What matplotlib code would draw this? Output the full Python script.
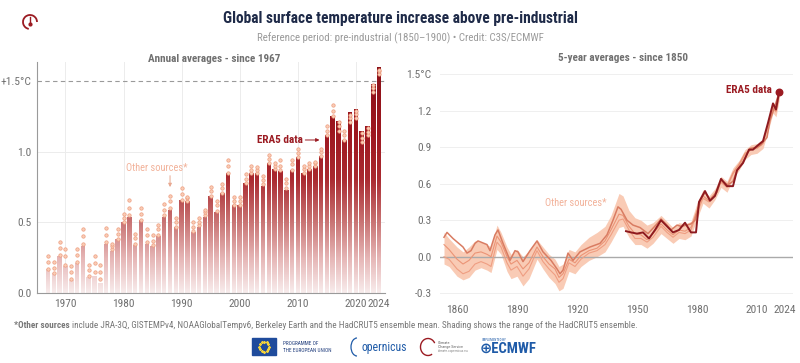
import matplotlib
matplotlib.use("Agg")
import matplotlib.pyplot as plt
import numpy as np
from matplotlib.path import Path
from matplotlib.colors import LinearSegmentedColormap
from matplotlib.patches import Rectangle, Arc

plt.rcParams['font.family'] = ['Roboto Condensed', 'DejaVu Sans']

##### annual averages (left panel)
years = list(range(1967, 2025))
era5 = [0.17, 0.14, 0.26, 0.19, 0.09, 0.21, 0.33, 0.11, 0.12, 0.07,
        0.35, 0.30, 0.38, 0.50, 0.54, 0.34, 0.52, 0.35, 0.33, 0.40,
        0.54, 0.59, 0.47, 0.66, 0.65, 0.43, 0.47, 0.54, 0.69, 0.57,
        0.71, 0.85, 0.62, 0.62, 0.78, 0.85, 0.85, 0.76, 0.92, 0.88,
        0.86, 0.73, 0.87, 0.96, 0.85, 0.88, 0.90, 0.97, 1.12, 1.25,
        1.22, 1.08, 1.28, 1.30, 1.15, 1.18, 1.48, 1.60]
other_lo = [0.17, 0.14, 0.27, 0.20, 0.10, 0.22, 0.35, 0.12, 0.15, 0.10,
            0.36, 0.31, 0.38, 0.50, 0.55, 0.35, 0.52, 0.36, 0.34, 0.41,
            0.55, 0.60, 0.47, 0.66, 0.65, 0.44, 0.48, 0.55, 0.69, 0.58,
            0.71, 0.85, 0.62, 0.62, 0.78, 0.85, 0.85, 0.77, 0.92, 0.88,
            0.87, 0.74, 0.87, 0.96, 0.85, 0.88, 0.90, 0.97, 1.12, 1.25,
            1.15, 1.08, 1.21, 1.24, 1.07, 1.12, 1.42, 1.55]
other_mid = [0.22, 0.18, 0.32, 0.26, 0.15, 0.27, 0.40, 0.16, 0.21, 0.15,
             0.41, 0.33, 0.42, 0.53, 0.60, 0.39, 0.56, 0.41, 0.37, 0.45,
             0.59, 0.65, 0.50, 0.70, 0.67, 0.47, 0.50, 0.57, 0.72, 0.62,
             0.74, 0.90, 0.65, 0.65, 0.81, 0.87, 0.87, 0.80, 0.95, 0.90,
             0.90, 0.78, 0.91, 0.99, 0.88, 0.90, 0.92, 1.00, 1.15, 1.29,
             1.18, 1.12, 1.24, 1.27, 1.10, 1.14, 1.45, 1.57]
other_hi = [0.26, 0.22, 0.36, 0.31, 0.19, 0.31, 0.45, 0.20, 0.26, 0.20,
            0.46, 0.35, 0.45, 0.56, 0.66, 0.42, 0.60, 0.45, 0.41, 0.48,
            0.63, 0.69, 0.53, 0.74, 0.68, 0.50, 0.53, 0.59, 0.75, 0.65,
            0.77, 0.94, 0.68, 0.68, 0.84, 0.90, 0.89, 0.83, 0.98, 0.92,
            0.94, 0.81, 0.94, 1.02, 0.90, 0.92, 0.93, 1.02, 1.18, 1.33,
            1.21, 1.15, 1.26, 1.29, 1.13, 1.17, 1.47, 1.58]

##### 5-year averages (right panel)
era5_5y_years = [1944.5, 1947, 1950, 1953, 1956, 1959, 1962, 1965, 1968, 1971,
                 1974, 1977, 1979.5, 1981, 1984, 1986.5, 1989, 1992, 1995, 1998,
                 2000, 2003, 2006, 2008, 2010, 2013, 2015.5, 2018, 2019.5, 2021]
era5_5y = [0.21, 0.20, 0.19, 0.20, 0.15, 0.22, 0.30, 0.25, 0.20, 0.22,
           0.28, 0.20, 0.20, 0.45, 0.54, 0.46, 0.50, 0.64, 0.58, 0.58,
           0.71, 0.77, 0.88, 0.88, 0.91, 0.95, 1.10, 1.26, 1.21, 1.35]

up_years = [1853.5, 1855, 1858, 1863, 1865, 1867, 1869, 1870.5, 1875, 1876.5,
            1879, 1880.5, 1883, 1886.5, 1889, 1890.5, 1893, 1896.5, 1900, 1903,
            1907, 1910, 1911.5, 1913, 1915.5, 1918, 1921.5, 1926.5, 1931.5, 1935,
            1938, 1940.5, 1942, 1945, 1948, 1951.5, 1955.5, 1960, 1962, 1965,
            1967, 1970, 1972, 1975, 1977, 1979, 1981.5, 1984, 1986.5, 1990,
            1992, 1995.5, 1998, 2000, 2003, 2006.5, 2010, 2012, 2015, 2016.5,
            2019, 2020.5]
up_vals = [0.16, 0.20, 0.15, 0.08, 0.03, 0.05, 0.11, 0.13, 0.10, 0.05,
           0.18, 0.22, 0.11, -0.03, 0.05, 0.04, -0.04, 0.05, 0.13, 0.04,
           -0.03, -0.10, -0.14, -0.11, 0.03, -0.03, 0.04, 0.08, 0.11, 0.18,
           0.30, 0.41, 0.39, 0.30, 0.26, 0.24, 0.19, 0.27, 0.31, 0.26,
           0.22, 0.26, 0.25, 0.26, 0.27, 0.30, 0.46, 0.53, 0.47, 0.53,
           0.63, 0.59, 0.62, 0.71, 0.78, 0.89, 0.90, 0.92, 0.98, 1.12,
           1.24, 1.32]

oth_years = [1853.5, 1856, 1860, 1863, 1866, 1869, 1872, 1875, 1877, 1880,
             1882, 1885, 1887, 1890, 1893, 1896, 1900, 1903, 1906, 1909,
             1911, 1913, 1916, 1919, 1922, 1926, 1930, 1934, 1937, 1941,
             1943, 1946, 1949, 1952, 1955, 1958, 1962, 1965, 1968, 1971,
             1974, 1977, 1980, 1983, 1986, 1989, 1992, 1995, 1998, 2001,
             2004, 2007, 2010, 2013, 2016, 2018, 2019.5, 2021]
oth_mid = [0.10, 0.06, -0.02, -0.06, -0.03, 0.03, 0.04, 0.02, 0.00, 0.17,
           0.12, 0.00, -0.06, -0.03, -0.10, -0.05, 0.08, 0.00, -0.06, -0.10,
           -0.17, -0.14, -0.02, -0.05, 0.01, 0.05, 0.07, 0.13, 0.22, 0.35,
           0.34, 0.25, 0.19, 0.18, 0.14, 0.19, 0.27, 0.22, 0.18, 0.22,
           0.21, 0.24, 0.38, 0.50, 0.46, 0.52, 0.62, 0.58, 0.69, 0.76,
           0.85, 0.88, 0.90, 0.94, 1.11, 1.24, 1.20, 1.33]
oth_low = [0.00, -0.02, -0.10, -0.14, -0.12, -0.06, -0.04, -0.06, -0.08, 0.12,
           0.08, -0.05, -0.11, -0.08, -0.16, -0.10, 0.05, -0.04, -0.10, -0.15,
           -0.21, -0.18, -0.05, -0.08, -0.02, 0.03, 0.05, 0.10, 0.18, 0.30,
           0.31, 0.22, 0.15, 0.15, 0.12, 0.16, 0.25, 0.20, 0.16, 0.20,
           0.19, 0.22, 0.36, 0.48, 0.45, 0.52, 0.61, 0.57, 0.68, 0.75,
           0.84, 0.88, 0.89, 0.93, 1.10, 1.22, 1.19, 1.31]
band_hi = [0.20, 0.15, 0.08, 0.04, 0.08, 0.13, 0.12, 0.10, 0.08, 0.26,
           0.20, 0.08, 0.02, 0.06, 0.00, 0.05, 0.14, 0.08, 0.02, -0.02,
           -0.08, -0.06, 0.06, 0.04, 0.10, 0.16, 0.20, 0.25, 0.34, 0.52,
           0.50, 0.38, 0.32, 0.30, 0.26, 0.28, 0.34, 0.29, 0.24, 0.28,
           0.27, 0.29, 0.44, 0.55, 0.50, 0.56, 0.66, 0.62, 0.73, 0.79,
           0.88, 0.92, 0.93, 0.97, 1.14, 1.27, 1.24, 1.36]
band_lo = [-0.06, -0.08, -0.16, -0.19, -0.17, -0.11, -0.09, -0.11, -0.13, 0.06,
           0.02, -0.12, -0.18, -0.16, -0.24, -0.18, -0.02, -0.10, -0.17, -0.22,
           -0.28, -0.26, -0.12, -0.14, -0.08, -0.03, 0.00, 0.04, 0.12, 0.24,
           0.25, 0.16, 0.10, 0.10, 0.07, 0.11, 0.19, 0.15, 0.11, 0.15,
           0.14, 0.17, 0.31, 0.44, 0.40, 0.47, 0.57, 0.53, 0.64, 0.71,
           0.80, 0.84, 0.85, 0.89, 1.06, 1.18, 1.15, 1.28]

dark_red = '#9b1b22'
salmon = '#f2b29a'
grey_txt = '#6f6f6f'

fig = plt.figure(figsize=(8, 3.63), dpi=100)
fig.patch.set_facecolor('white')

########## left panel
ax1 = fig.add_axes([37/800, 1-293/363, 348/800, 231/363])
bars = ax1.bar(years, era5, width=0.78, color='none', edgecolor='none')
paths = [b.get_path().transformed(b.get_patch_transform()) for b in bars]
clip = Path.make_compound_path(*paths)
cmap = LinearSegmentedColormap.from_list('bars', [(0, '#f8ecec'), (0.15, '#e6b6b6'),
                                                  (0.31, '#c97474'), (0.5, '#aa2a30'),
                                                  (0.7, '#9e1820'), (1, '#8a1018')])
grad = np.linspace(0, 1, 256).reshape(-1, 1)
im = ax1.imshow(grad, extent=[1965, 2025, 0, 1.62], origin='lower', aspect='auto',
                cmap=cmap, zorder=2)
im.set_clip_path(clip, transform=ax1.transData)
for y in (other_lo, other_mid, other_hi):
    ax1.scatter(years, y, s=6, facecolor='#f9cdb6', edgecolor='#ee9c7e', linewidth=0.5, zorder=3)

ax1.set_xlim(1965.1, 2025)
ax1.set_ylim(0, 1.635)
ax1.axhline(1.5, color='#9a9a9a', lw=0.8, ls=(0, (4, 3)), zorder=1)
for v in (0.5, 1.0):
    ax1.axhline(v, color='#ececec', lw=0.7, zorder=0)
for yr in range(1970, 2030, 10):
    ax1.axvline(yr, color='#ececec', lw=0.7, zorder=0)
ax1.set_yticks([0, 0.5, 1.0, 1.5])
ax1.set_yticklabels(['0.0', '0.5', '1.0', '+1.5°C'])
ax1.set_xticks([1970, 1980, 1990, 2000, 2010, 2020, 2024])
for s in ('top', 'right'):
    ax1.spines[s].set_visible(False)
ax1.spines['left'].set_color('#9a9a9a')
ax1.spines['bottom'].set_color('#9a9a9a')
ax1.spines['left'].set_linewidth(0.8)
ax1.spines['bottom'].set_linewidth(0.8)
ax1.tick_params(length=0, labelsize=8.2, colors=grey_txt, pad=4)
ax1.text(1985.7, 0.885, 'Other sources*', color=salmon, fontsize=7.5, ha='center', va='center')
ax1.annotate('', xy=(1988, 0.73), xytext=(1988, 0.85),
             arrowprops=dict(arrowstyle='-|>', color='#e8a890', lw=0.7, mutation_scale=5))
ax1.text(2006.9, 1.083, 'ERA5 data', color=dark_red, fontsize=8, fontweight='bold',
         ha='center', va='center')
ax1.annotate('', xy=(2014.2, 1.083), xytext=(2010.8, 1.083),
             arrowprops=dict(arrowstyle='-|>', color=dark_red, lw=0.7, mutation_scale=5))

########## right panel
ax2 = fig.add_axes([440/800, 1-296.9/363, 353/800, 230/363])
ax2.fill_between(oth_years, band_lo, band_hi, color='#f9cbb5', lw=0, zorder=1)
ax2.plot(oth_years, oth_low, color='#ef9e82', lw=0.8, zorder=2)
ax2.plot(oth_years, oth_mid, color='#eb9476', lw=0.8, zorder=2)
ax2.plot(up_years, up_vals, color='#d97c62', lw=1.1, zorder=3)
ax2.plot(era5_5y_years, era5_5y, color='#8e1a1f', lw=1.4, zorder=4)
ax2.scatter(era5_5y_years[-1], era5_5y[-1], s=22, color=dark_red, zorder=5)
ax2.set_xlim(1851.5, 2028)
ax2.set_ylim(-0.33, 1.56)
yt = [-0.3, 0.0, 0.3, 0.6, 0.9, 1.2, 1.5]
for v in yt:
    if v == 0:
        ax2.axhline(v, color='#aaaaaa', lw=1.0, zorder=1.5)
    else:
        ax2.axhline(v, color='#efefef', lw=0.7, zorder=0)
ax2.set_yticks(yt)
ax2.set_yticklabels(['-0.3', '0.0', '0.3', '0.6', '0.9', '1.2', '1.5°C'])
ax2.set_xticks([1860, 1890, 1920, 1950, 1980, 2010, 2024])
for s in ax2.spines.values():
    s.set_visible(False)
ax2.tick_params(length=0, labelsize=8.2, colors=grey_txt, pad=6)
ax2.text(1919.5, 0.444, 'Other sources*', color=salmon, fontsize=7.5, ha='center', va='center')
ax2.text(2017.3, 1.37, 'ERA5 data', color=dark_red, fontsize=8, fontweight='bold',
         ha='right', va='center')

########## titles
fig.text(0.5, 1-19/363, 'Global surface temperature increase above pre-industrial',
         ha='center', va='center', fontsize=11.2, fontweight='bold', color='#1e2a48')
fig.text(0.5, 1-38/363, 'Reference period: pre-industrial (1850\u20131900) \u2022 Credit: C3S/ECMWF',
         ha='center', va='center', fontsize=7.8, color='#9a9a9a')
fig.text(214/800, 1-59/363, 'Annual averages - since 1967', ha='center', va='center',
         fontsize=8, fontweight='bold', color='#707070')
fig.text(623/800, 1-58/363, '5-year averages - since 1850', ha='center', va='center',
         fontsize=8, fontweight='bold', color='#707070')

# footnote
t1 = fig.text(14/800, 1-325/363, '*Other sources', ha='left', va='center', fontsize=6.6,
              fontweight='bold', color='#777777')
fig.canvas.draw()
bb = t1.get_window_extent()
fig.text(bb.x1/800 + 0.003, 1-325/363,
         'include JRA-3Q, GISTEMPv4, NOAAGlobalTempv6, Berkeley Earth and the HadCRUT5 ensemble mean. '
         'Shading shows the range of the HadCRUT5 ensemble.',
         ha='left', va='center', fontsize=6.6, color='#777777')

# logo row
lg = fig.add_axes([0, 0, 1, 1], facecolor='none')
lg.set_xlim(0, 800)
lg.set_ylim(363, 0)
lg.axis('off')
lg.add_patch(Rectangle((252, 338), 24, 17, color='#1f4b9c'))
ang = np.linspace(0, 2*np.pi, 13)[:-1]
lg.scatter(264 + 5*np.cos(ang), 346.5 + 5*np.sin(ang), s=1.2, color='#f3d23a', marker='*')
lg.text(283, 343.5, 'PROGRAMME OF', fontsize=3.8, color='#1f3c7c', va='center')
lg.text(283, 350.5, 'THE EUROPEAN UNION', fontsize=3.8, color='#1f3c7c', va='center')
lg.add_patch(Arc((357, 347), 12, 18, theta1=90, theta2=270, color='#1f5ba8', lw=0.9))
lg.text(361, 347, 'opernicus', fontsize=8.5, color='#1f5ba8', va='center')
lg.add_patch(Arc((428, 347), 15, 17, theta1=60, theta2=330, color='#9b1b22', lw=1.0))
lg.text(438, 343, 'Climate', fontsize=3, color='#666', va='center')
lg.text(438, 347, 'Change Service', fontsize=3, color='#666', va='center')
lg.text(438, 351, 'climate.copernicus.eu', fontsize=2.5, color='#888', va='center')
lg.text(482, 340, 'IMPLEMENTED BY', fontsize=2.3, color='#1f5ba8', va='center')
lg.text(480, 349, '\u2295ECMWF', fontsize=10.5, fontweight='bold', color='#1f5ba8', va='center')
# top-left icon
lg.add_patch(Arc((30, 22), 14, 14, theta1=100, theta2=360, color='#9b1b22', lw=1.3))
lg.plot([30, 30], [17, 24], color='#9b1b22', lw=1.0)
lg.scatter([30], [24], s=4, color='#9b1b22')

fig.savefig('out.png', dpi=100, facecolor='white')
